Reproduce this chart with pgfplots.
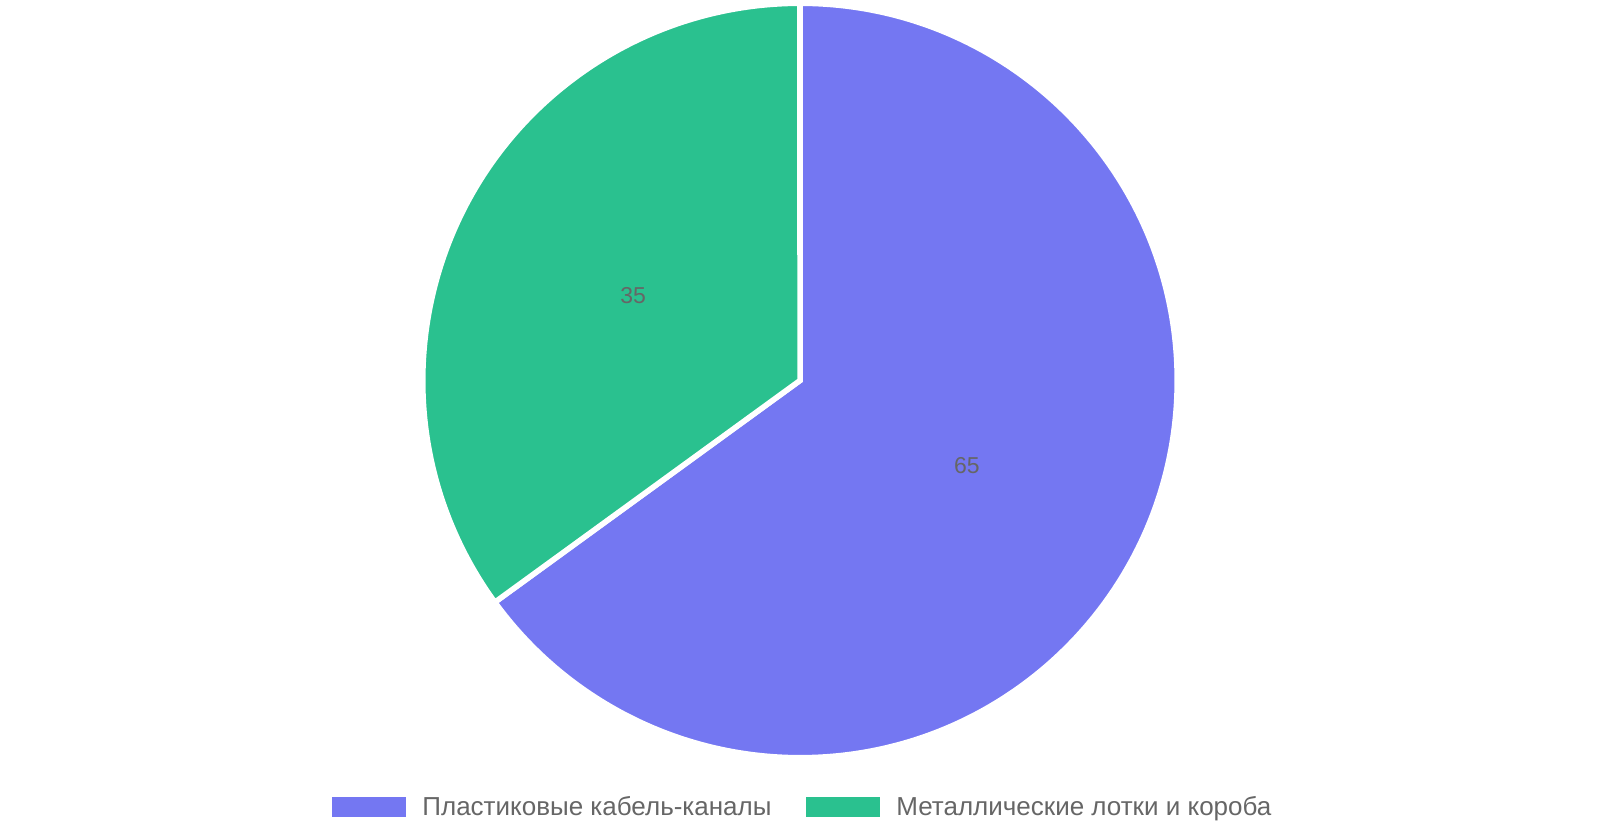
\documentclass[border=0pt]{standalone}
\usepackage{fontspec}
\setmainfont{Liberation Sans}
\usepackage{pgfplots}
\usepackage{pgfplotstable}
\pgfplotsset{compat=1.18}

\definecolor{plastic}{HTML}{7477F2}
\definecolor{metal}{HTML}{2AC18F}
\definecolor{labelgray}{HTML}{666666}

\pgfplotstableread{
name value
plastic 65
metal 35
}\piedata

\begin{document}
\begin{tikzpicture}
\pgfplotstablegetelem{0}{value}\of\piedata \let\va\pgfplotsretval
\pgfplotstablegetelem{1}{value}\of\piedata \let\vb\pgfplotsretval
\pgfmathsetmacro{\tot}{\va+\vb}
% angles, clockwise from 12 o'clock
\pgfmathsetmacro{\aend}{90-\va/\tot*360}
\pgfmathsetmacro{\bend}{\aend-\vb/\tot*360}
\pgfmathsetmacro{\amid}{(90+\aend)/2}
\pgfmathsetmacro{\bmid}{(\aend+\bend)/2}
\begin{axis}[
  width=800pt, height=420pt, scale only axis,
  xmin=0, xmax=1600, ymin=0, ymax=840,
  hide axis, clip=false,
]
% keep the whole canvas as bounding box
\path (rel axis cs:0,0) rectangle (rel axis cs:1,1);
% centre (800,459.5) in px units, 1px = 0.5pt, radius 377px incl. white border
\fill[plastic, draw=white, line width=2.75pt]
  (axis cs:800,459.5) -- ++(90:188.6pt) arc[start angle=90, end angle=\aend, radius=188.6pt] -- cycle;
\fill[metal, draw=white, line width=2.75pt]
  (axis cs:800,459.5) -- ++(\aend:188.6pt) arc[start angle=\aend, end angle=\bend, radius=188.6pt] -- cycle;

\node[font=\fontsize{11.5}{13}\selectfont, text=labelgray] at (axis cs:800,459.5) [shift={(\amid:93.6pt)}] {\va};
\node[font=\fontsize{11.5}{13}\selectfont, text=labelgray] at (axis cs:800,459.5) [shift={(\bmid:93.6pt)}] {\vb};

% legend
\fill[plastic] (axis cs:332,43) rectangle (axis cs:406,23);
\node[anchor=base west, inner sep=0pt, font=\fontsize{13}{15}\selectfont, text=labelgray]
  at (axis cs:422,24.3) {Пластиковые кабель-каналы};
\fill[metal] (axis cs:806,43) rectangle (axis cs:880,23);
\node[anchor=base west, inner sep=0pt, font=\fontsize{13}{15}\selectfont, text=labelgray]
  at (axis cs:896,24.3) {Металлические лотки и короба};
\end{axis}
\end{tikzpicture}
\end{document}
